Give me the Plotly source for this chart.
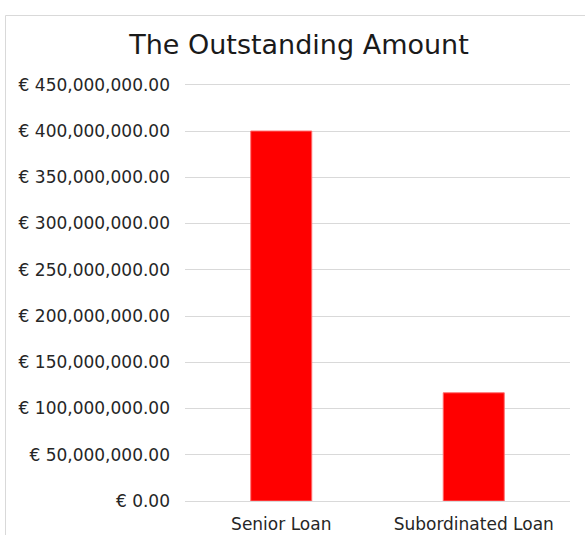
import plotly.graph_objects as go

categories = ["Senior Loan", "Subordinated Loan"]
amounts = [400000000, 117000000]
y_ticks = [0, 50e6, 100e6, 150e6, 200e6, 250e6, 300e6, 350e6, 400e6, 450e6]
y_tick_text = [f"€ {v:,.2f}" for v in y_ticks]

FONT = "DejaVu Sans"

fig = go.Figure(
    go.Bar(
        x=categories,
        y=amounts,
        width=0.317,
        marker=dict(color="#FF0000", line=dict(color="rgba(255,110,110,0.95)", width=1)),
    )
)

fig.update_layout(
    width=585,
    height=535,
    margin=dict(l=185, r=15, t=82, b=34, autoexpand=False),
    paper_bgcolor="white",
    plot_bgcolor="white",
    showlegend=False,
    font=dict(family=FONT, color="#262626"),
    title=dict(
        text="The Outstanding Amount",
        x=(299 - 185) / 385,
        xref="paper",
        xanchor="center",
        y=1 - 45 / 535,
        yref="container",
        yanchor="middle",
        font=dict(family=FONT, size=27, color="#1a1a1a"),
    ),
    shapes=[
        dict(
            type="rect",
            xref="paper",
            yref="paper",
            x0=(5.5 - 185) / 385,
            x1=1.2,
            y0=-0.3,
            y1=(501 - 15.5) / 419,
            line=dict(color="#d9d9d9", width=1),
            fillcolor="rgba(0,0,0,0)",
            layer="below",
        )
    ],
)

fig.update_yaxes(
    range=[0, 453e6],
    tickvals=y_ticks,
    ticktext=y_tick_text,
    showgrid=True,
    gridcolor="#d9d9d9",
    gridwidth=1,
    zeroline=False,
    showline=False,
    ticks="",
    automargin=False,
    ticklabelstandoff=14,
    tickfont=dict(family=FONT, size=17, color="#262626"),
)

fig.update_xaxes(
    showline=True,
    linecolor="#d9d9d9",
    linewidth=1,
    ticks="",
    showgrid=False,
    automargin=False,
    ticklabelstandoff=8,
    tickfont=dict(family=FONT, size=17, color="#262626"),
)

fig.write_html(
    "out.html",
    config={"displayModeBar": False},
    post_script="document.body.style.margin='0';",
)
